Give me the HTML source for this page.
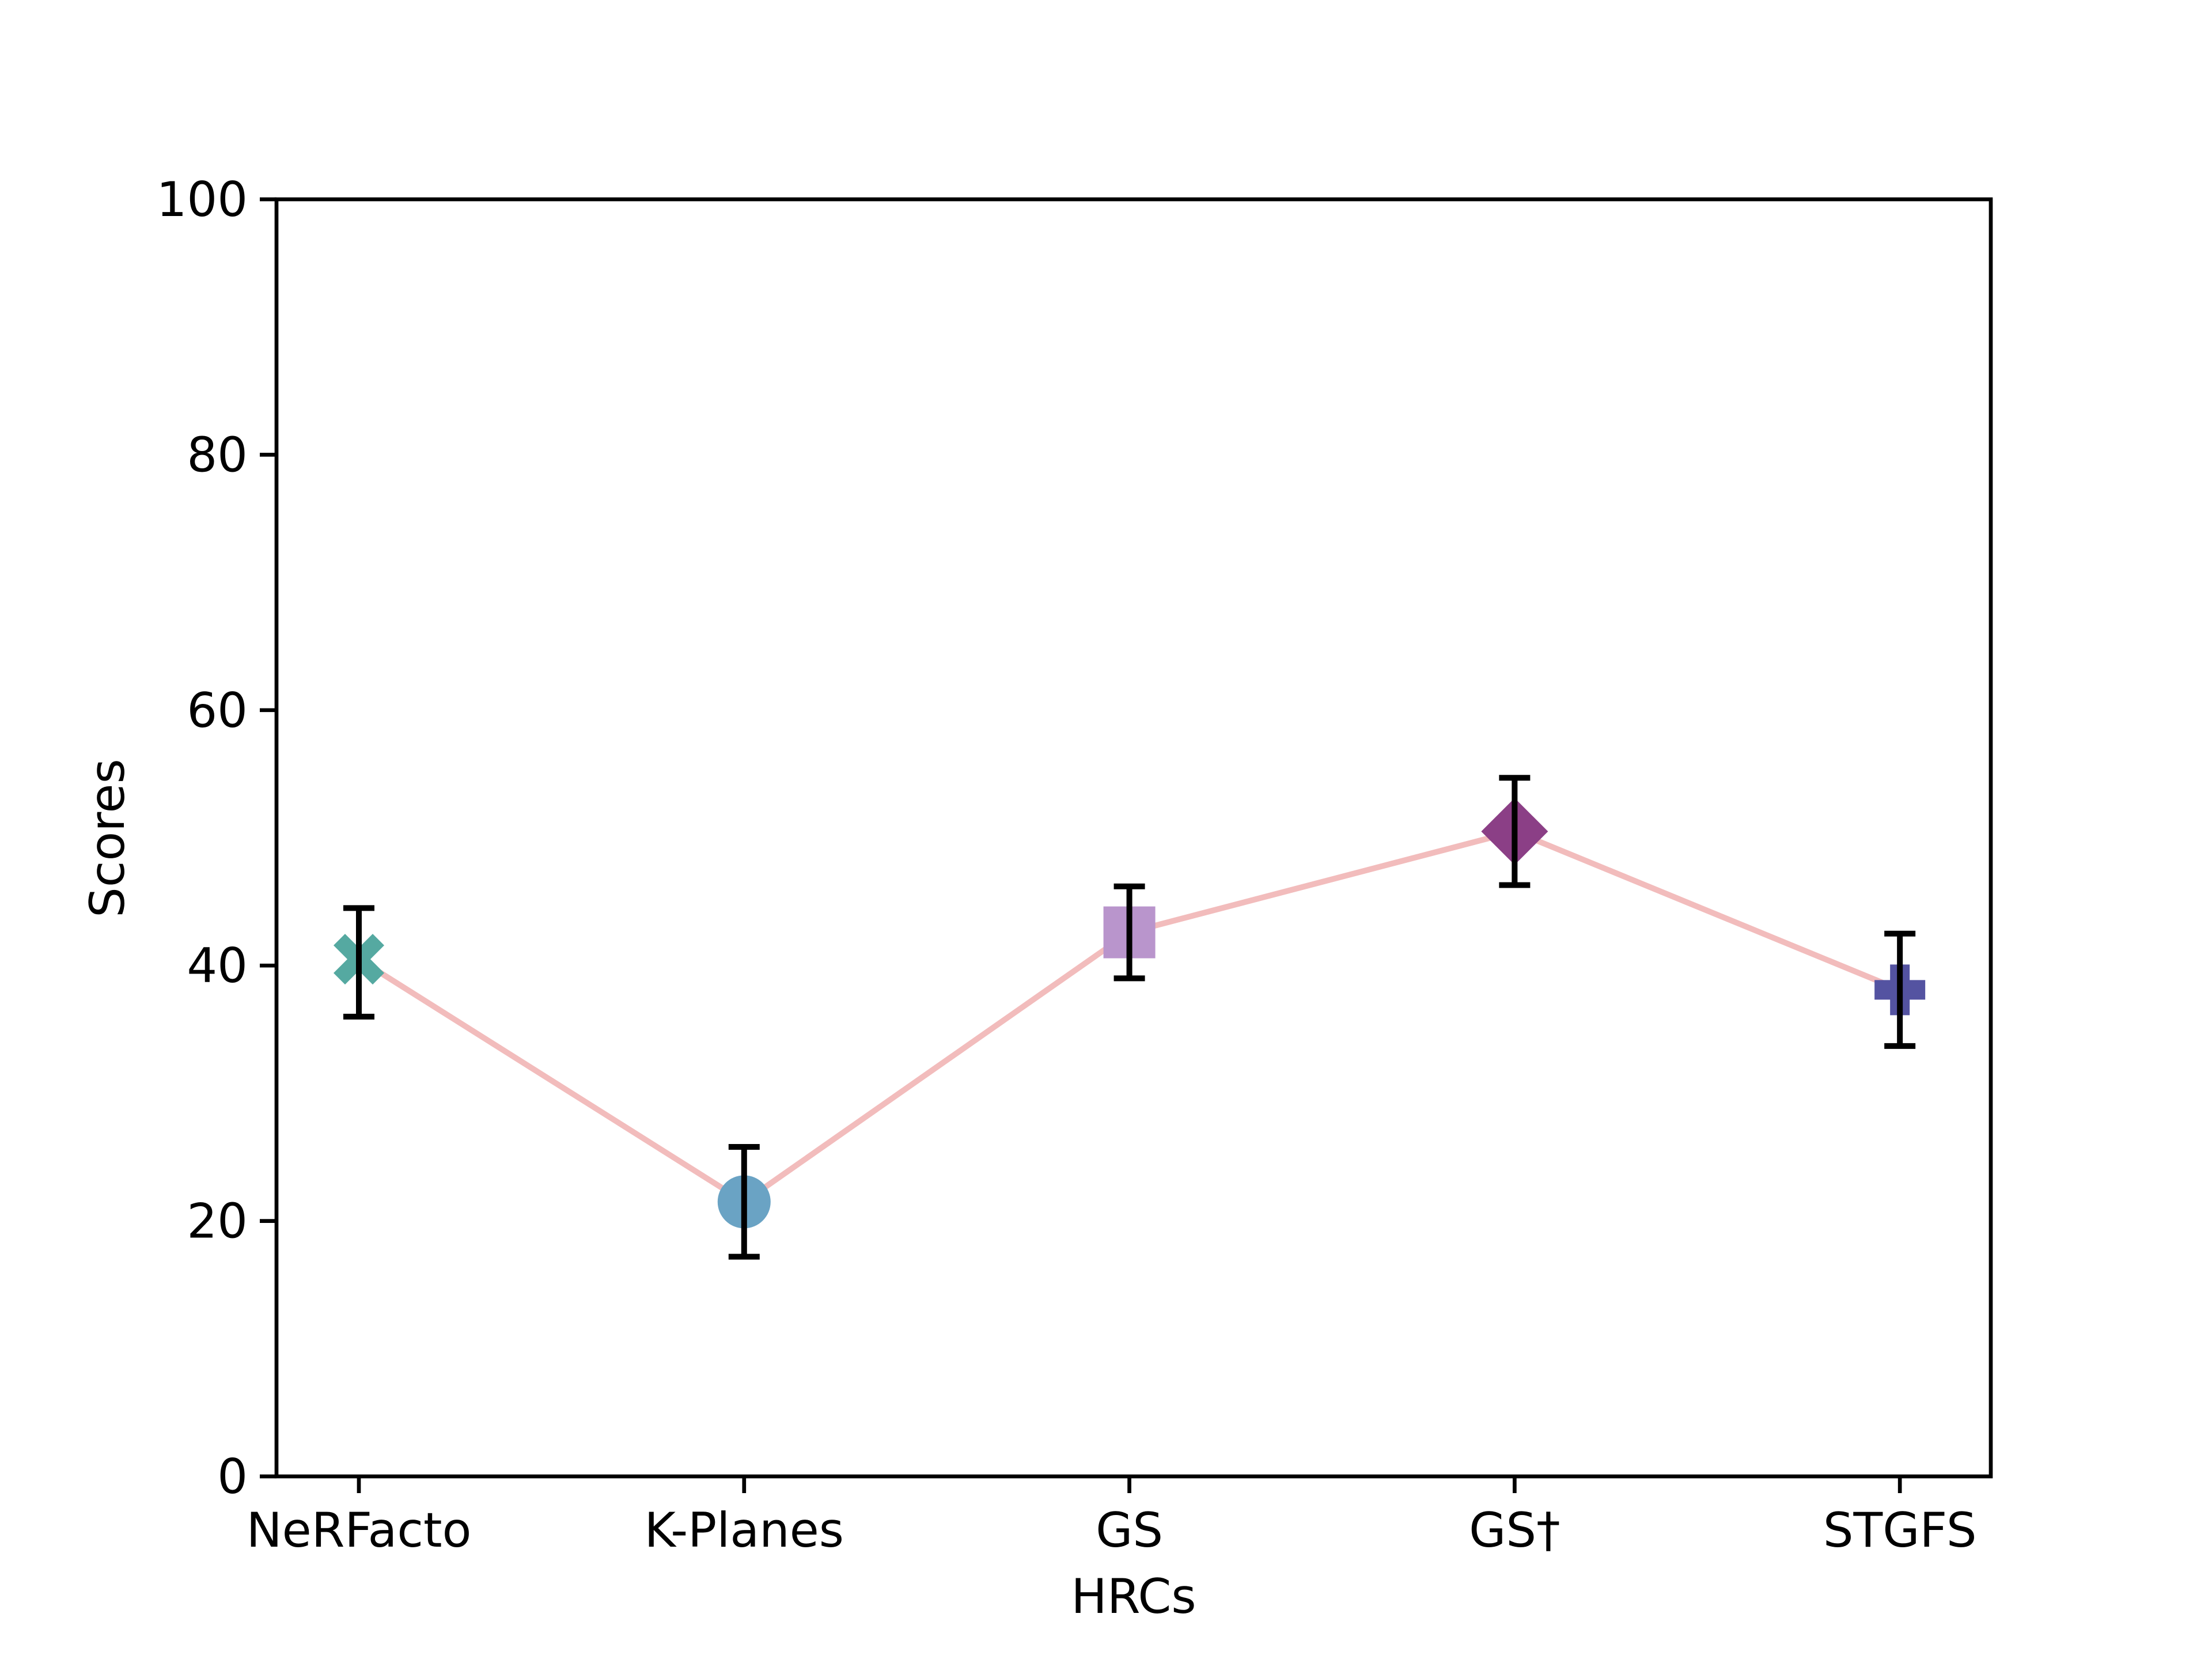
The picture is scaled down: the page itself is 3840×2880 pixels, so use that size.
<!DOCTYPE html>
<html><head><meta charset="utf-8"><style>
html,body{margin:0;padding:0;background:#fff;}
svg{display:block;font-family:"DejaVu Sans","Liberation Sans",sans-serif;}
</style></head><body>
<svg id="chart" width="3840" height="2880" viewBox="0 0 3840 2880" xmlns="http://www.w3.org/2000/svg">
<rect x="0" y="0" width="3840" height="2880" fill="#fff"/>
<g id="plot"></g>
<rect x="480" y="346" width="2976" height="2217" fill="none" stroke="#000" stroke-width="6.7"/>
<text x="1968" y="2800" font-size="83" text-anchor="middle">HRCs</text>
<text x="0" y="0" font-size="83" text-anchor="middle" transform="translate(215,1455) rotate(-90)">Scores</text>
</svg>
<script>
const categories = ["NeRFacto","K-Planes","GS","GS\u2020","STGFS"];
const scores = [40.5, 21.5, 42.6, 50.5, 38.1];
const errLow = [36.0, 17.2, 39.0, 46.3, 33.7];
const errHigh = [44.5, 25.8, 46.2, 54.7, 42.5];
const yTicks = [0, 20, 40, 60, 80, 100];
const markerColors = ["#55a9a1","#6aa3c4","#b995cc","#8b3f86","#5453a1"];
const markerShapes = ["x","circle","square","diamond","plus"];

const NS = "http://www.w3.org/2000/svg";
const L=480,R=3456,T=346,B=2563;
const xMin=-0.2138, xMax=4.236;
const xs = i => L + (i-xMin)/(xMax-xMin)*(R-L);
const ys = v => B - v/100*(B-T);
const g = document.getElementById('plot');
function mk(tag, attrs){const e=document.createElementNS(NS,tag);for(const k in attrs)e.setAttribute(k,attrs[k]);g.appendChild(e);return e;}

yTicks.forEach(v=>{
  const t=mk('line',{x1:L-29,x2:L,y1:ys(v),y2:ys(v),stroke:'#000','stroke-width':6.7});
  
  
  const tx=mk('text',{x:L-50,y:ys(v)+29,'font-size':83,'text-anchor':'end'});
  tx.textContent=v;
  
  
});
categories.forEach((c,i)=>{
  const t=mk('line',{x1:xs(i),x2:xs(i),y1:B,y2:B+29,stroke:'#000','stroke-width':6.7});
  
  
  const tx=mk('text',{x:xs(i),y:B+122,'font-size':83,'text-anchor':'middle'});
  tx.textContent=c;
  
  
});
const pts=scores.map((v,i)=>xs(i)+','+ys(v)).join(' ');
const line=mk('polyline',{points:pts,fill:'none',stroke:'#f2bcbc','stroke-width':10});



scores.forEach((v,i)=>{
  const x=xs(i), y=ys(v), c=markerColors[i], s=markerShapes[i];
  let m;
  if(s==='circle') m=mk('circle',{cx:x,cy:y,r:46,fill:c});
  else if(s==='square') m=mk('rect',{x:x-45,y:y-45,width:90,height:90,fill:c});
  else if(s==='diamond') m=mk('polygon',{points:`${x},${y-58} ${x+58},${y} ${x},${y+58} ${x-58},${y}`,fill:c});
  else if(s==='x'){const a=20,b=44;m=mk('polygon',{points:`${x-b},${y-b+a} ${x-b+a},${y-b} ${x},${y-a} ${x+b-a},${y-b} ${x+b},${y-b+a} ${x+a},${y} ${x+b},${y+b-a} ${x+b-a},${y+b} ${x},${y+a} ${x-b+a},${y+b} ${x-b},${y+b-a} ${x-a},${y}`,fill:c});}
  else {const a=17,b=44;m=mk('polygon',{points:`${x-a},${y-b} ${x+a},${y-b} ${x+a},${y-a} ${x+b},${y-a} ${x+b},${y+a} ${x+a},${y+a} ${x+a},${y+b} ${x-a},${y+b} ${x-a},${y+a} ${x-b},${y+a} ${x-b},${y-a} ${x-a},${y-a}`,fill:c});}
  
  
  const e=mk('path',{d:`M${x},${ys(errLow[i])}V${ys(errHigh[i])}M${x-27},${ys(errLow[i])}H${x+27}M${x-27},${ys(errHigh[i])}H${x+27}`,stroke:'#000','stroke-width':10,fill:'none'});
  
  
});
</script>
</body></html>
